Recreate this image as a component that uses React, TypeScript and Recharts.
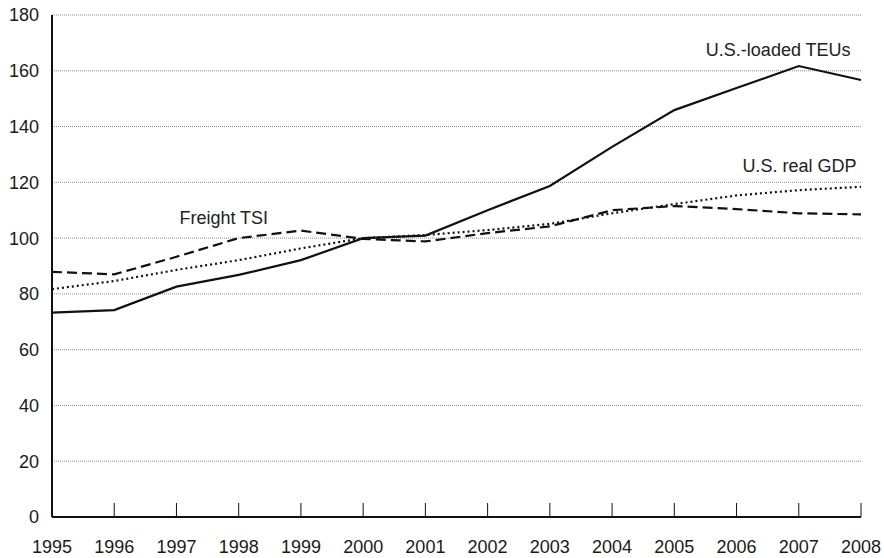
import React from 'react';
import { LineChart, Line, XAxis, YAxis, CartesianGrid, ReferenceDot } from 'recharts';

const years = [1995, 1996, 1997, 1998, 1999, 2000, 2001, 2002, 2003, 2004, 2005, 2006, 2007, 2008];
const teus = [73.3, 74.2, 82.6, 86.8, 92.1, 100, 100.9, 110, 118.7, 132.7, 145.9, 153.8, 161.7, 156.7];
const freightTsi = [87.9, 87.0, 93.3, 100, 102.7, 99.7, 98.8, 101.8, 104.2, 110.0, 111.5, 110.4, 108.9, 108.5];
const realGdp = [81.7, 84.6, 88.6, 92.1, 96.3, 100, 101.1, 102.9, 105.1, 108.9, 112.2, 115.3, 117.2, 118.4];
const yTicks = [0, 20, 40, 60, 80, 100, 120, 140, 160, 180];

const data = years.map((y, i) => ({ year: y, teus: teus[i], tsi: freightTsi[i], gdp: realGdp[i] }));

const font = '"Liberation Sans", Arial, Helvetica, sans-serif';
const labelStyle = { fill: '#222', fontSize: 18, fontFamily: font };

export default function App() {
  return (
    <div style={{ position: 'absolute', left: 0, top: 0, width: 884, height: 558, background: '#fff' }}>
      <LineChart width={884} height={558} data={data} margin={{ top: 15, right: 23, bottom: 0, left: 0 }}>
        <CartesianGrid vertical={false} stroke="#8a8a8a" strokeDasharray="1 1" strokeWidth={1} />
        <XAxis
          dataKey="year"
          type="number"
          domain={[1995, 2008]}
          ticks={years}
          height={41}
          axisLine={{ stroke: '#111', strokeWidth: 2 }}
          tickLine={{ stroke: '#111', strokeWidth: 1 }}
          tickSize={-14}
          tickMargin={37}
          tick={{ fill: '#1a1a1a', fontSize: 18, fontFamily: font }}
          interval={0}
        />
        <YAxis
          domain={[0, 180]}
          ticks={yTicks}
          width={52}
          axisLine={{ stroke: '#111', strokeWidth: 2 }}
          tickLine={false}
          tickSize={0}
          tickMargin={13}
          tick={{ fill: '#1a1a1a', fontSize: 18, fontFamily: font }}
          interval={0}
        />
        <Line type="linear" dataKey="gdp" stroke="#111" strokeWidth={2.2} strokeDasharray="2 3" dot={false} isAnimationActive={false} />
        <Line type="linear" dataKey="tsi" stroke="#111" strokeWidth={2.2} strokeDasharray="10 5" dot={false} isAnimationActive={false} />
        <Line type="linear" dataKey="teus" stroke="#111" strokeWidth={2.2} dot={false} isAnimationActive={false} />
        <ReferenceDot x={2006.67} y={167.5} r={0} stroke="none" fill="none"
          label={{ value: 'U.S.-loaded TEUs', position: 'center', style: labelStyle }} />
        <ReferenceDot x={2007.01} y={125.9} r={0} stroke="none" fill="none"
          label={{ value: 'U.S. real GDP', position: 'center', style: labelStyle }} />
        <ReferenceDot x={1997.76} y={107.3} r={0} stroke="none" fill="none"
          label={{ value: 'Freight TSI', position: 'center', style: labelStyle }} />
      </LineChart>
    </div>
  );
}
